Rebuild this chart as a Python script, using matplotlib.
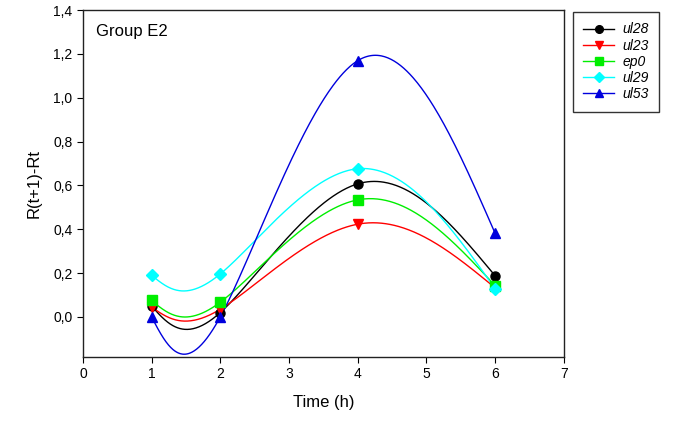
import numpy as np
import matplotlib
matplotlib.use("Agg")
import matplotlib.pyplot as plt
from matplotlib.ticker import FuncFormatter

plt.rcParams['font.family'] = ['Liberation Sans', 'DejaVu Sans']

time = [1, 2, 4, 6]
ul28 = [0.05, 0.02, 0.607, 0.188]
ul23 = [0.045, 0.035, 0.423, 0.133]
ep0 = [0.075, 0.067, 0.534, 0.143]
ul29 = [0.19, 0.196, 0.676, 0.129]
ul53 = [0.0, 0.0, 1.169, 0.382]

series = [
    ("ul28", ul28, "black", "o"),
    ("ul23", ul23, "red", "v"),
    ("ep0", ep0, "#00ee00", "s"),
    ("ul29", ul29, "cyan", "D"),
    ("ul53", ul53, "#0000dd", "^"),
]


def natural_spline(x, y, xs):
    x = np.asarray(x, float)
    y = np.asarray(y, float)
    n = len(x)
    h = np.diff(x)
    A = np.zeros((n, n))
    b = np.zeros(n)
    A[0, 0] = 1
    A[-1, -1] = 1
    for i in range(1, n - 1):
        A[i, i - 1] = h[i - 1]
        A[i, i] = 2 * (h[i - 1] + h[i])
        A[i, i + 1] = h[i]
        b[i] = 6 * ((y[i + 1] - y[i]) / h[i] - (y[i] - y[i - 1]) / h[i - 1])
    M = np.linalg.solve(A, b)
    out = np.empty_like(xs)
    for k, xv in enumerate(xs):
        i = min(max(np.searchsorted(x, xv) - 1, 0), n - 2)
        t1 = x[i + 1] - xv
        t0 = xv - x[i]
        out[k] = (M[i] * t1 ** 3 / (6 * h[i]) + M[i + 1] * t0 ** 3 / (6 * h[i])
                  + (y[i] / h[i] - M[i] * h[i] / 6) * t1
                  + (y[i + 1] / h[i] - M[i + 1] * h[i] / 6) * t0)
    return out


def parametric_spline(x, y, n=400):
    t = np.arange(len(x), dtype=float)
    ts = np.linspace(0, len(x) - 1, n)
    return natural_spline(t, x, ts), natural_spline(t, y, ts)


fig = plt.figure(figsize=(6.85, 4.37), dpi=100)
ax = fig.add_axes([0.121, 0.183, 0.702, 0.794])

for name, vals, col, mk in series:
    xs, ys = parametric_spline(time, vals)
    ms = 6.5 if mk != 'D' else 6
    ax.plot(xs, ys, color=col, lw=1.0, zorder=2)
    ax.plot(time, vals, linestyle='none', marker=mk, color=col, markersize=ms, zorder=3)
    ax.plot([], [], color=col, marker=mk, lw=1.0, markersize=ms, label=name)

ax.set_xlim(0, 7)
ax.set_ylim(-0.183, 1.4)
ax.set_xticks(range(0, 8))
ax.set_yticks([0.0, 0.2, 0.4, 0.6, 0.8, 1.0, 1.2, 1.4])
ax.yaxis.set_major_formatter(FuncFormatter(lambda v, p: f"{v:.1f}".replace('.', ',')))
ax.tick_params(direction='out', length=4, labelsize=10)
for s in ax.spines.values():
    s.set_linewidth(1.0)
    s.set_color('#222222')

ax.set_xlabel("Time (h)", fontsize=12, labelpad=10)
ax.set_ylabel("R(t+1)-Rt", fontsize=12, labelpad=8)
ax.text(0.028, 0.96, "Group E2", transform=ax.transAxes, fontsize=12, va='top', ha='left')

leg = fig.legend(loc='upper left', bbox_to_anchor=(573 / 685, 1 - 12 / 437), frameon=True,
                 fancybox=False, edgecolor='black', prop={'style': 'italic', 'size': 10},
                 handlelength=2.2, labelspacing=0.16, borderpad=0.75, borderaxespad=0,
                 markerscale=0.85, handletextpad=0.6)
leg.get_frame().set_linewidth(1.0)

fig.savefig("out.png", dpi=100)
